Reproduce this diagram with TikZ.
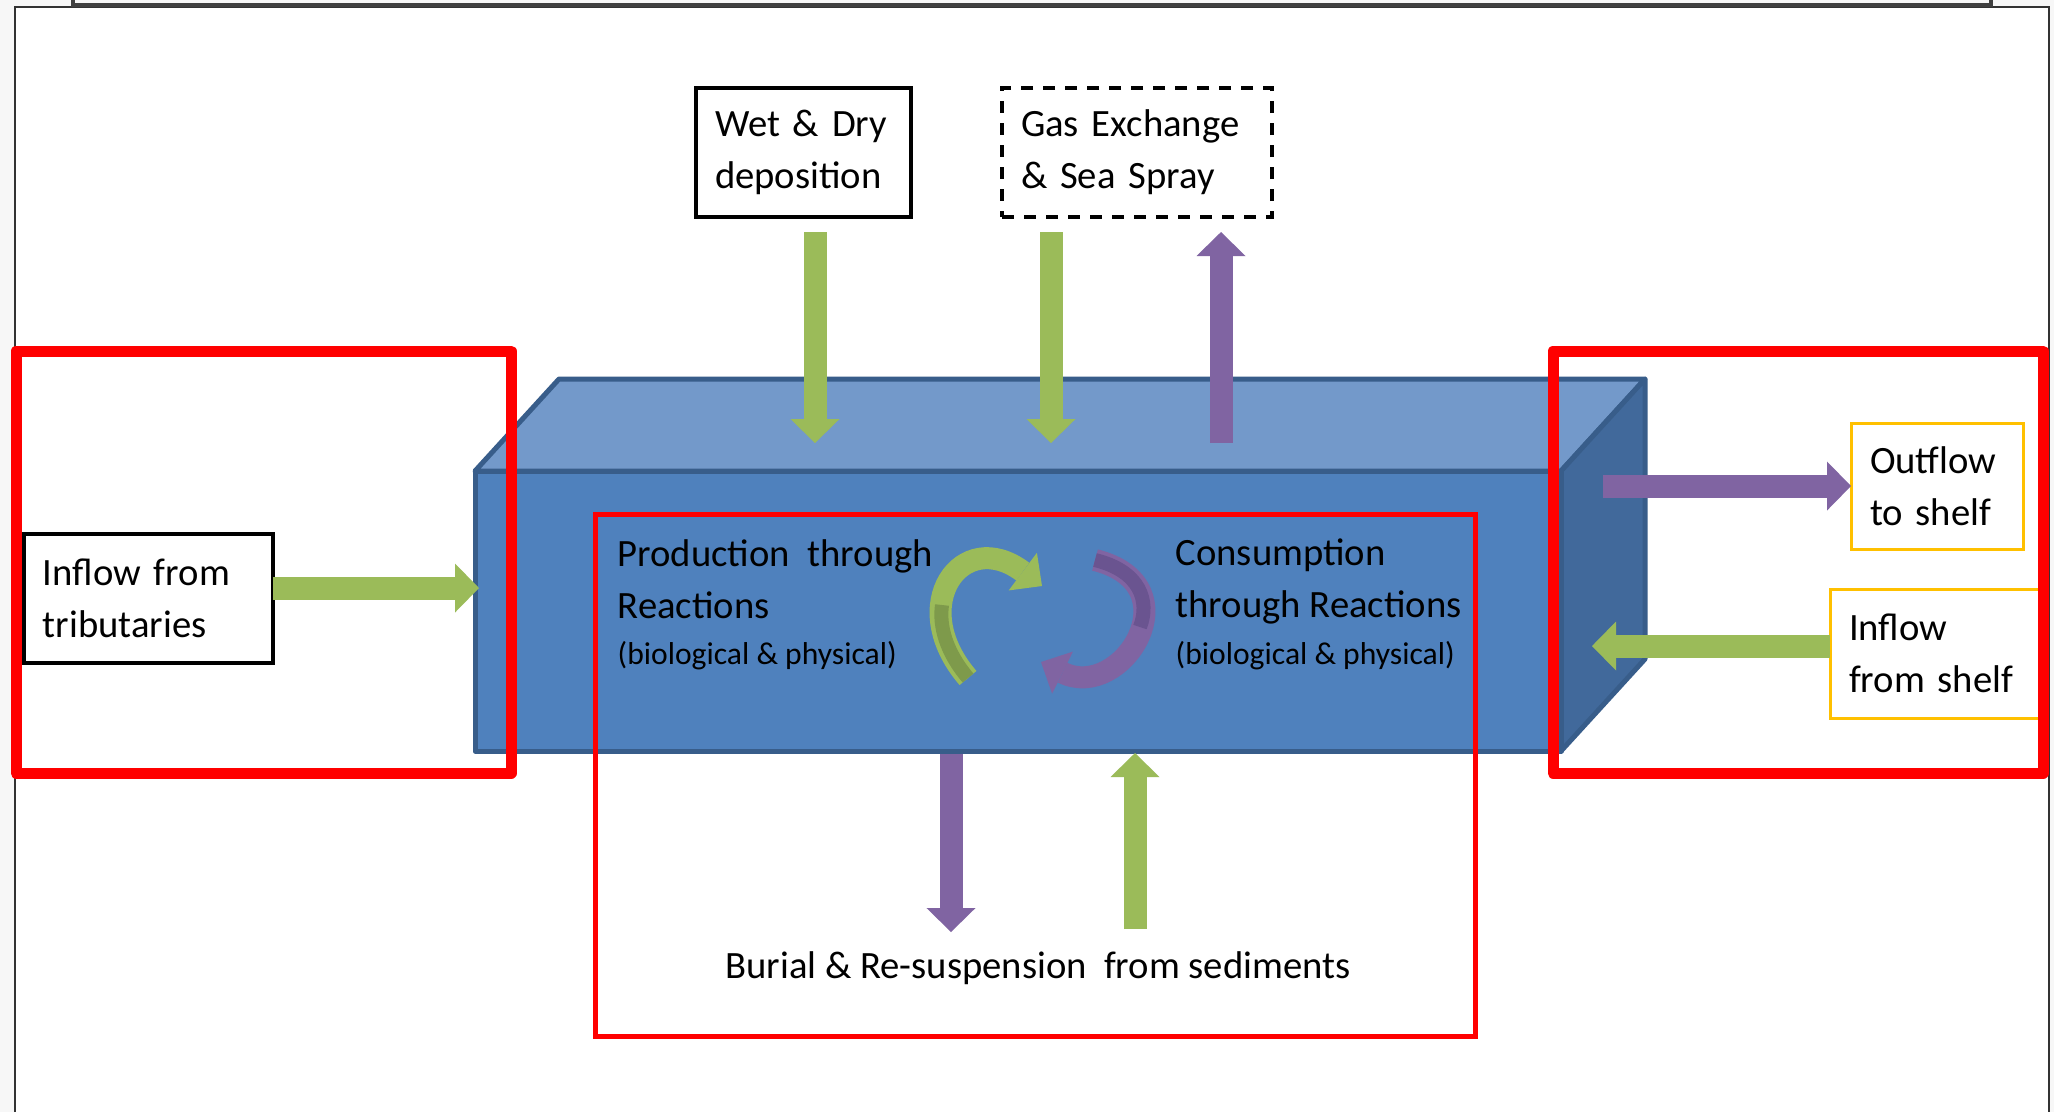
\documentclass[tikz,border=0pt]{standalone}
\usepackage{fontspec}
\setmainfont{Carlito}
\usepackage{tikz}
\usetikzlibrary{arrows.meta, positioning, calc}
\definecolor{FlowGreen}{HTML}{9BBB59}
\definecolor{FlowPurple}{HTML}{8064A2}
\definecolor{DeepGreen}{HTML}{7E9A4B}
\definecolor{DeepPurple}{HTML}{6A5490}
\definecolor{BoxFront}{HTML}{4F81BD}
\definecolor{BoxTop}{HTML}{7399CA}
\definecolor{BoxSide}{HTML}{41699B}
\definecolor{BoxEdge}{HTML}{385D8A}
\definecolor{ShelfGold}{HTML}{FFC000}
\newcommand{\mainsize}{\fontsize{11pt}{14.8pt}\selectfont}
\newcommand{\notesize}{\fontsize{9pt}{11pt}\selectfont}

\begin{document}
\begin{tikzpicture}[x=0.1mm, y=-0.1mm,
    flow/.style={line width=2.3mm, -{Triangle[width=4.9mm, length=2.4mm, line width=0pt]}},
    greenflow/.style={flow, draw=FlowGreen},
    purpleflow/.style={flow, draw=FlowPurple},
    labelbox/.style={draw, line width=0.35mm, inner xsep=1.9mm, inner ysep=0pt, outer sep=0pt,
                     align=left, anchor=north west, font=\mainsize},
    shelfbox/.style={labelbox, draw=ShelfGold, line width=0.3mm},
    redframe/.style={draw=red, line width=1.1mm, line join=round},
    cubeface/.style={draw=BoxEdge, line width=0.5mm, line join=round}]
        % Page and window frame
        \useasboundingbox (0,0) rectangle (2054,1112);
        \fill[black!3] (0,0) rectangle (2054,1112);
        \fill[white] (15,7) rectangle (2049,1112);
        \draw[line width=0.25mm, black!80] (15,1112) |- (2049,7) -- (2049,1112);
        \draw[line width=0.45mm, black!75] (73,0) |- (1991,5) -- (1991,0);
        % Water column as a box
        \filldraw[cubeface, fill=BoxTop] (475,471) -- (559,379) -- (1645,379) -- (1561,471) -- cycle;
        \filldraw[cubeface, fill=BoxSide] (1561,471) -- (1645,379) -- (1645,659) -- (1561,751) -- cycle;
        \filldraw[cubeface, fill=BoxFront] (475,471) rectangle (1561,751);
        % Source and sink boxes
        \node[labelbox, text width=21.1mm, minimum height=12.9mm] (trib) at (24,534) {Inflow from\\tributaries};
        \node[labelbox, text width=17.7mm, minimum height=12.9mm] (wet) at (696,88) {Wet \& Dry\\deposition};
        \node[labelbox, dashed, dash pattern=on 1.2mm off 1mm, text width=23.2mm, minimum height=12.9mm,
              right=9.1mm of wet] (gas) {Gas Exchange\\\& Sea Spray};
        \node[shelfbox, text width=13.4mm, minimum height=12.6mm] (outshelf) at (1851,423) {Outflow\\to shelf};
        \node[shelfbox, text width=17.1mm, minimum height=12.9mm] (inshelf) at (1830,589) {Inflow\\from shelf};
        % Free ends of the flows
        \coordinate (tribEnd) at (479,588);
        \coordinate (depTop) at (815,232);   \coordinate (depEnd) at (815,443);
        \coordinate (gasTop) at (1051,232);  \coordinate (gasEnd) at (1051,443);
        \coordinate (sprayTop) at (1221,232); \coordinate (sprayStart) at (1221,443);
        \coordinate (outStart) at (1603,486);
        \coordinate (inEnd) at (1592,646);
        \coordinate (burStart) at (951,754);  \coordinate (burEnd) at (951,932);
        \coordinate (resStart) at (1135,929); \coordinate (resEnd) at (1135,753);
        % Flows across the boundaries
        \draw[greenflow] (trib.east |- tribEnd) -- (tribEnd);
        \draw[greenflow] (depTop) -- (depEnd);
        \draw[greenflow] (gasTop) -- (gasEnd);
        \draw[purpleflow] (sprayStart) -- (sprayTop);
        \draw[purpleflow] (outStart) -- (outshelf.west |- outStart);
        \draw[greenflow] (inshelf.west |- inEnd) -- (inEnd);
        \draw[purpleflow] (burStart) -- (burEnd);
        \draw[greenflow] (resStart) -- (resEnd);
        % Internal cycle
        \draw[line width=2.2mm, FlowGreen, -{Triangle[width=4.7mm, length=2.4mm, line width=0pt]}]
            (968,678) .. controls (905,605) and (962,526) .. (1042,586);
        \draw[line width=1.4mm, DeepGreen] (968,678) .. controls (946,652) and (939,626) .. (942,605);
        \draw[line width=2.2mm, FlowPurple, -{Triangle[width=4.7mm, length=2.4mm, line width=0pt]}]
            (1095,560) .. controls (1195,585) and (1122,702) .. (1041,662);
        \draw[line width=1.4mm, DeepPurple] (1095,560) .. controls (1140,571) and (1150,601) .. (1140,627);
        % Texts in the water column
        \node[inner sep=0pt, anchor=base west, align=left, font=\mainsize] (prod) at (617,618) {Production\ \ through\\Reactions};
        \node[inner sep=0pt, anchor=base west, font=\notesize] (prodnote) at (617,664) {(biological \& physical)};
        \node[inner sep=0pt, anchor=base west, align=left, font=\mainsize] (cons) at (1175,617) {Consumption\\through Reactions};
        \node[inner sep=0pt, anchor=base west, font=\notesize] (consnote) at (1175,664) {(biological \& physical)};
        \node[inner sep=0pt, anchor=base, font=\mainsize] (burial) at (1038,978) {Burial \& Re-suspension\ \ from sediments};
        % Red highlight frames
        \draw[redframe] (16,351) rectangle (511,773);
        \draw[redframe] (1553,351) rectangle (2043,773);
        \draw[draw=red, line width=0.5mm] (595,514) rectangle (1475,1036);
    \end{tikzpicture}
\end{document}
